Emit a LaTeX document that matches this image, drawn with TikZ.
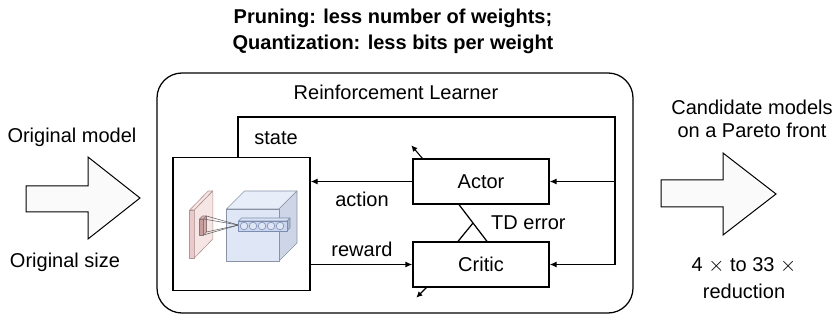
\documentclass[tikz,border=0pt]{standalone}
\usepackage{fontspec}
\setmainfont{Liberation Sans}
\usetikzlibrary{arrows.meta,calc}
\definecolor{slabfront}{HTML}{E9C9C9}
\definecolor{slabside}{HTML}{F6E5E5}
\definecolor{slabedge}{HTML}{B39393}
\definecolor{rffill}{HTML}{C99C9C}
\definecolor{cubefront}{HTML}{DFE7F6}
\definecolor{cubetop}{HTML}{E8EEF9}
\definecolor{cubeside}{HTML}{CDD5E6}
\definecolor{cubeedge}{HTML}{8A93A6}
\definecolor{barfill}{HTML}{CAD6EE}
\definecolor{baredge}{HTML}{7D8DB0}
\begin{document}
\begin{tikzpicture}[x=1pt,y=-1pt,
  every node/.style={font=\fontsize{20}{24}\selectfont, inner sep=0pt},
  line/.style={line width=1.25pt},
  arr/.style={line width=1.25pt, -{Latex[length=7pt,width=6pt]}},
  smallarr/.style={line width=1.1pt, -{Latex[length=6pt,width=6pt]}},
  block/.style={draw, line width=1.25pt, minimum width=136pt, minimum height=45pt},
  bigarrow/.style={draw, line width=1pt, fill=black!2, line join=miter},
  cnn/.style={line width=0.6pt, line join=round},
]
\useasboundingbox (0,0) rectangle (834,320);

% heading
\node[font=\fontsize{20}{24}\selectfont\bfseries] (t1) at (393,18) {Pruning: less number of weights;};
\node[font=\fontsize{20}{24}\selectfont\bfseries] (t2) at (393,44) {Quantization: less bits per weight};

% reinforcement learner frame
\draw[line, rounded corners=25pt] (157,73) rectangle (633,313);
\node (rl) at (396,92) {Reinforcement Learner};

% network state box and the two agent blocks
\node[block, minimum width=137pt, minimum height=133pt] (img) at (241.5,224) {};
\node[block] (actor) at (481,181.5) {Actor};
\node[block] (critic) at (481,264.5) {Critic};

% feedback loop
\coordinate (tl) at (238,117);
\coordinate (tr) at (615,117);
\draw[arr] (img.north -| tl) |- (tr) |- (critic.east);
\draw[arr] (tr |- actor.east) -- (actor.east);

% action and reward
\draw[arr] (actor.west) -- (actor.west -| img.east);
\draw[arr] (img.east |- critic.west) -- (critic.west);
\node (state) at (276,138) {state};
\node (action) at (362,199) {action};
\node (reward) at (362,249) {reward};

% TD error link
\coordinate (tda) at ([xshift=-22pt]actor.south);
\coordinate (tdb) at ([xshift=6pt]critic.north);
\draw[line] (tda) -- (tdb);
\draw[line] ([xshift=-23pt]critic.north) -- ($(tda)!0.5!(tdb)$);
\node[anchor=west] (td) at (491,223) {TD error};

% update arrows
\draw[smallarr] ([xshift=10pt]actor.north west) -- ++(-11,-13);
\draw[smallarr] ([xshift=14pt]critic.south west) -- ++(-10,10);

% input and output arrows
\draw[bigarrow] (26,186) -- (88,186) -- (88,157) -- (140,198) -- (88,239) -- (88,212) -- (26,212) -- cycle;
\draw[bigarrow] (661,180) -- (723,180) -- (723,153) -- (776,194) -- (723,235) -- (723,207) -- (661,207) -- cycle;
\node (om) at (72,137) {Original model};
\node (os) at (65,262) {Original size};
\node (cm1) at (752,107) {Candidate models};
\node (cm2) at (752,130) {on a Pareto front};
\node (red1) at (744,265) {4 $\times$ to 33 $\times$};
\node (red2) at (744,291) {reduction};

% convolution sketch: input slab
\draw[cnn, draw=slabedge, fill=slabfront] (189.7,210) -- (194.3,210) -- (194.3,258) -- (189.7,258) -- cycle;
\draw[cnn, draw=slabedge, fill=slabside] (189.7,210) -- (208.2,191) -- (212.8,191) -- (194.3,210) -- cycle;
\draw[cnn, draw=slabedge, fill=slabside] (194.3,210) -- (212.8,191) -- (212.8,239) -- (194.3,258) -- cycle;
% receptive field
\draw[cnn, draw=slabedge!80!black, fill=rffill!70!white] (199.5,219) -- (202.5,216) -- (206.5,216) -- (203.5,219) -- cycle;
\draw[cnn, draw=slabedge!80!black, fill=rffill] (199.5,219) -- (203.5,219) -- (203.5,235) -- (199.5,235) -- cycle;
\draw[cnn, draw=slabedge!80!black, fill=rffill!85!white] (203.5,219) -- (206.5,216) -- (206.5,232) -- (203.5,235) -- cycle;
% feature volume
\draw[cnn, draw=cubeedge, fill=cubetop] (226.5,209) -- (244.5,191) -- (297,191) -- (279,209) -- cycle;
\draw[cnn, draw=cubeedge, fill=cubeside] (279,209) -- (297,191) -- (297,243) -- (279,261) -- cycle;
\draw[cnn, draw=cubeedge, fill=cubefront] (226.5,209) rectangle (279,261);
% projection lines
\foreach \p in {(203.5,219),(203.5,235),(206.5,216),(206.5,232)}
  \draw[line width=0.5pt, black!65] \p -- (238.5,225);
% output column with units
\draw[cnn, draw=baredge, fill=barfill!70!white] (238.5,221) -- (241.5,218) -- (290,218) -- (287,221) -- cycle;
\draw[cnn, draw=baredge, fill=barfill!85!black] (287,221) -- (290,218) -- (290,228) -- (287,231) -- cycle;
\draw[cnn, draw=baredge, fill=barfill] (238.5,221) rectangle (287,231);
\foreach \cx in {244,253,262,271,280}
  \draw[line width=0.6pt, draw=baredge, fill=cubefront] (\cx,226) circle (3.8);
\end{tikzpicture}
\end{document}
